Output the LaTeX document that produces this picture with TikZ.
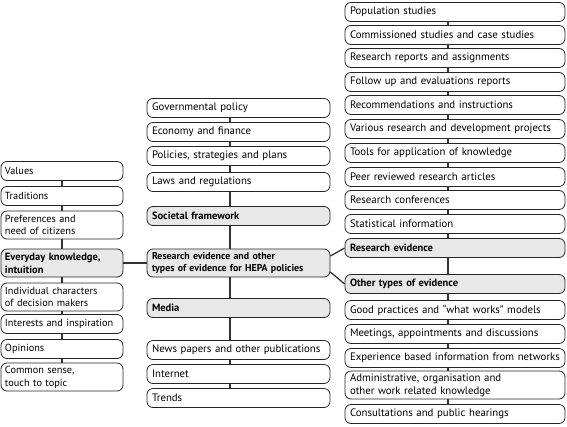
\documentclass[tikz,border=0pt]{standalone}
\usepackage{fontspec}
\setmainfont{PT Sans}
\begin{document}
\begin{tikzpicture}[x=1pt,y=-1pt,
  box/.style={draw=black!85, line width=0.8pt, rounded corners=6pt, fill=white,
    inner xsep=5pt, inner ysep=0pt, align=left, minimum height=19pt,
    execute at begin node={\hyphenpenalty=10000\exhyphenpenalty=10000},
    font=\fontsize{10.8}{12.8}\selectfont},
  gbox/.style={box, fill=black!9, font=\fontsize{10.5}{12.8}\selectfont\bfseries},
  lcol/.style={text width=114pt, inner xsep=4pt, font=\fontsize{10.3}{12.8}\selectfont},
  lgcol/.style={text width=114pt, inner xsep=4pt},
  mcol/.style={text width=173pt},
  rcol/.style={text width=210pt},
  two/.style={minimum height=28pt},
  link/.style={draw=black!80, line width=1.3pt}]
\useasboundingbox (0,0) rectangle (567,426);
\coordinate (lx) at (62,0);
\coordinate (mx) at (230,0);
\coordinate (rx) at (448,0);
% left column
\node[box,lcol] (values) at (62,171) {Values};
\node[box,lcol] (trad) at (62,196) {Traditions};
\node[box,lcol,two] (pref) at (62,225) {Preferences and\\need of citizens};
\node[gbox,lgcol,two] (every) at (62,263) {Everyday knowledge,\\intuition};
\node[box,lcol,two] (indiv) at (62,297) {Individual characters\\of decision makers};
\node[box,lcol] (inter) at (62,324) {Interests and inspiration};
\node[box,lcol] (opin) at (62,349) {Opinions};
\node[box,lcol,two] (common) at (62,377) {Common sense,\\touch to topic};
% middle column
\node[box,mcol] (gov) at (238.5,108) {Governmental policy};
\node[box,mcol] (econ) at (238.5,132) {Economy and finance};
\node[box,mcol] (polic) at (238.5,156) {Policies, strategies and plans};
\node[box,mcol] (laws) at (238.5,182) {Laws and regulations};
\node[gbox,mcol] (soc) at (238.5,216) {Societal framework};
\node[gbox,mcol,two,font=\fontsize{9.9}{12.8}\selectfont\bfseries] (res) at (238.5,263) {Research evidence and other\\types of evidence for HEPA policies};
\node[gbox,mcol] (media) at (238.5,308) {Media};
\node[box,mcol] (news) at (238.5,350) {News papers and other publications};
\node[box,mcol] (inet) at (238.5,374) {Internet};
\node[box,mcol] (trends) at (238.5,398) {Trends};
% right column
\node[box,rcol] (r1) at (455,12) {Population studies};
\node[box,rcol] (r2) at (455,35) {Commissioned studies and case studies};
\node[box,rcol] (r3) at (455,58) {Research reports and assignments};
\node[box,rcol] (r4) at (455,82) {Follow up and evaluations reports};
\node[box,rcol] (r5) at (455,105) {Recommendations and instructions};
\node[box,rcol] (r6) at (455,129) {Various research and development projects};
\node[box,rcol] (r7) at (455,153) {Tools for application of knowledge};
\node[box,rcol] (r8) at (455,177) {Peer reviewed research articles};
\node[box,rcol] (r9) at (455,200) {Research conferences};
\node[box,rcol] (r10) at (455,224) {Statistical information};
\node[gbox,rcol] (revid) at (455,248) {Research evidence};
\node[gbox,rcol] (other) at (455,284) {Other types of evidence};
\node[box,rcol] (o1) at (455,310) {Good practices and “what works” models};
\node[box,rcol] (o2) at (455,334) {Meetings, appointments and discussions};
\node[box,rcol] (o3) at (455,358) {Experience based information from networks};
\node[box,rcol,two] (o4) at (455,385) {Administrative, organisation and\\other work related knowledge};
\node[box,rcol] (o5) at (455,414) {Consultations and public hearings};
% connectors
\foreach \a/\b in {values/trad,trad/pref,pref/every,every/indiv,indiv/inter,inter/opin,opin/common}
  \draw[link] (\a.south -| lx) -- (\b.north -| lx);
\foreach \a/\b in {gov/econ,econ/polic,polic/laws,laws/soc,soc/res,res/media,media/news,news/inet,inet/trends}
  \draw[link] (\a.south -| mx) -- (\b.north -| mx);
\foreach \a/\b in {r1/r2,r2/r3,r3/r4,r4/r5,r5/r6,r6/r7,r7/r8,r8/r9,r9/r10,r10/revid,revid/other,other/o1,o1/o2,o2/o3,o3/o4,o4/o5}
  \draw[link] (\a.south -| rx) -- (\b.north -| rx);
\draw[link] (every.east) -- (res.west);
\draw[link] ([yshift=7pt]res.east) -- (revid.west);
\draw[link] ([yshift=-9pt]res.east) -- (other.west);
\end{tikzpicture}
\end{document}
